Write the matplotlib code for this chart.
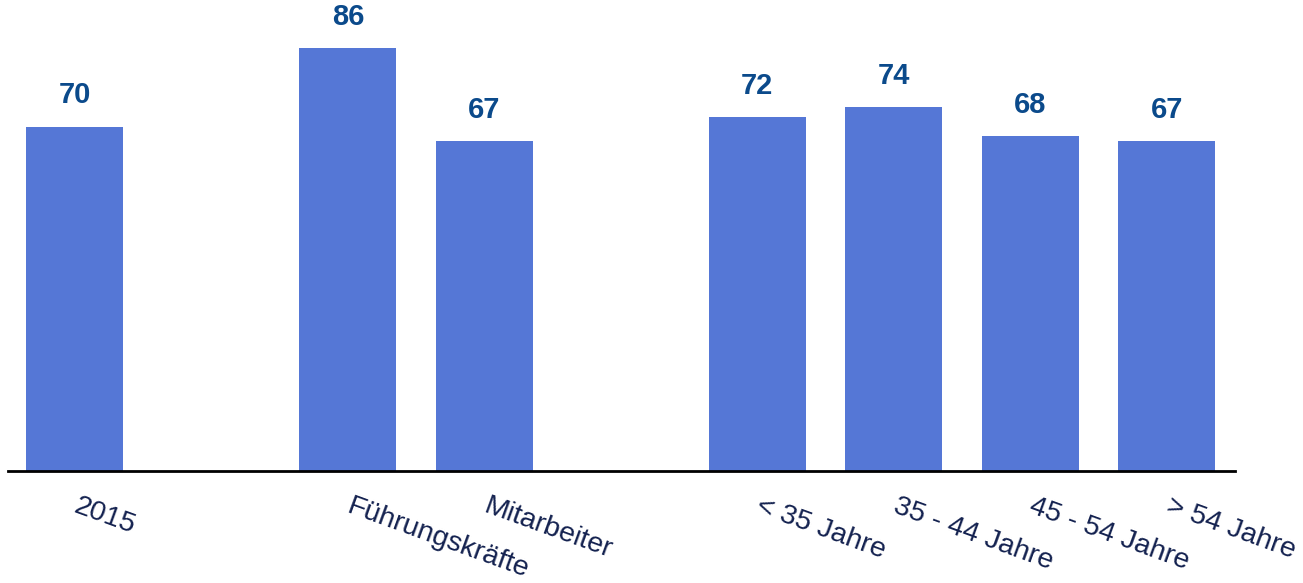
import numpy as np
import matplotlib.pyplot as plt
from matplotlib.transforms import ScaledTranslation

plt.rcParams['font.family'] = ['Liberation Sans', 'DejaVu Sans']

# Categories, grouped (one empty slot between groups)
groups = [["2015"],
          ["Führungskräfte", "Mitarbeiter"],
          ["< 35 Jahre", "35 - 44 Jahre", "45 - 54 Jahre", "> 54 Jahre"]]

# Values for each group
values = [[70],
          [86, 67],
          [72, 74, 68, 67]]

labels = []
vals = []
x = []
pos = 0
for g, v in zip(groups, values):
    for lab, val in zip(g, v):
        labels.append(lab)
        vals.append(val)
        x.append(pos)
        pos += 1
    pos += 1  # gap
x = np.array(x)

bar_color = '#5577d6'
value_color = '#0b4a8b'
label_color = '#13214f'

fig = plt.figure(figsize=(13.03, 5.83), dpi=100)
ax = fig.add_axes([8 / 1303, 0.192, 1227 / 1303, 0.808])

ax.bar(x, vals, width=0.71, color=bar_color, zorder=2)
for xi, v in zip(x, vals):
    ax.text(xi, v + 4.7, str(v), ha='center', va='baseline', fontsize=21,
            fontweight='bold', color=value_color)

ax.set_xlim(-0.49, 8.5)
ax.set_ylim(0, 95.7)
ax.set_yticks([])
ax.set_xticks(x)
ax.set_xticklabels(labels, rotation=-20, ha='left', va='top',
                   rotation_mode='anchor', fontsize=20.5, color=label_color)
ax.tick_params(axis='x', length=0, pad=16)
shift = ScaledTranslation(5 / 100, 0, fig.dpi_scale_trans)
for t in ax.get_xticklabels():
    t.set_transform(t.get_transform() + shift)

for s in ['top', 'right', 'left']:
    ax.spines[s].set_visible(False)
ax.spines['bottom'].set_linewidth(2)
ax.spines['bottom'].set_color('black')
ax.spines['bottom'].set_zorder(3)

fig.savefig('out.png', dpi=100)
